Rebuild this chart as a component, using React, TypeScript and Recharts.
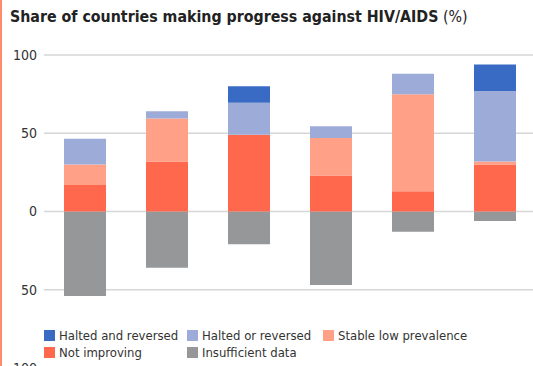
import React from 'react';
import { BarChart, Bar, XAxis, YAxis, CartesianGrid, Legend } from 'recharts';

const groups = ['A', 'B', 'C', 'D', 'E', 'F'];
const insufficientData = [-54, -36, -21, -47, -13, -6];
const notImproving = [17, 32, 49, 23, 13, 30];
const stableLowPrevalence = [13, 27.5, 0, 24, 62, 2];
const haltedOrReversed = [16.5, 4.5, 20.5, 7.5, 13, 45];
const haltedAndReversed = [0, 0, 10.5, 0, 0, 17];
const yTicks = [-100, -50, 0, 50, 100];

const FONT = '"DejaVu Sans Condensed", "Liberation Sans Narrow", "Liberation Sans", sans-serif';

const SERIES = [
  { key: 'insufficient', name: 'Insufficient data', color: '#969798' },
  { key: 'notImproving', name: 'Not improving', color: '#ff684c' },
  { key: 'stable', name: 'Stable low prevalence', color: '#ffa087' },
  { key: 'haltedOr', name: 'Halted or reversed', color: '#9dabd8' },
  { key: 'haltedAnd', name: 'Halted and reversed', color: '#3a6bc4' },
];

// legend rows, in the order the original prints them
const LEGEND_ROWS = [
  ['haltedAnd', 'haltedOr', 'stable'],
  ['notImproving', 'insufficient'],
];
const LEGEND_COLS = [0, 143, 279];

const data = groups.map((g, i) => ({
  group: g,
  insufficient: insufficientData[i],
  notImproving: notImproving[i],
  stable: stableLowPrevalence[i],
  haltedOr: haltedOrReversed[i],
  haltedAnd: haltedAndReversed[i],
}));

const renderLegend = () => (
  <div style={{ position: 'relative', width: 480, height: 36, fontFamily: FONT, fontSize: 13, color: '#333' }}>
    {LEGEND_ROWS.map((row, r) =>
      row.map((key, c) => {
        const s = SERIES.find((x) => x.key === key)!;
        return (
          <div
            key={key}
            style={{ position: 'absolute', left: LEGEND_COLS[c], top: r * 17, display: 'flex', alignItems: 'center', whiteSpace: 'nowrap' }}
          >
            <span style={{ display: 'inline-block', width: 11, height: 11, background: s.color, marginRight: 4 }} />
            <span style={{ lineHeight: '17px' }}>{s.name}</span>
          </div>
        );
      })
    )}
  </div>
);

export default function App() {
  return (
    <div style={{ position: 'absolute', left: 0, top: 0, width: 533, height: 366, overflow: 'hidden', background: '#fff' }}>
      <div style={{ position: 'absolute', left: 0, top: 0, width: 2, height: 366, background: '#ff8a6e' }} />
      <div
        style={{ position: 'absolute', left: 10, top: 7, fontFamily: FONT, fontSize: 15.8, color: '#222', whiteSpace: 'nowrap' }}
      >
        <span style={{ fontWeight: 'bold' }}>Share of countries making progress against HIV/AIDS</span>
        <span> (%)</span>
      </div>
      <div style={{ position: 'absolute', left: 0, top: 0 }}>
        <BarChart
          width={560}
          height={437}
          data={data}
          stackOffset="sign"
          margin={{ top: 55, right: 24, bottom: 33, left: 0 }}
        >
          <CartesianGrid vertical={false} stroke="#d6d6d6" strokeWidth={1.5} />
          <XAxis dataKey="group" hide />
          <YAxis
            width={44}
            domain={[-100, 100]}
            ticks={yTicks}
            tickFormatter={(v: number) => String(Math.abs(v))}
            axisLine={false}
            tickLine={false}
            tickSize={0}
            tickMargin={7}
            tick={{ fill: '#333', fontSize: 14, fontFamily: FONT }}
          />
          <Legend
            content={renderLegend}
            wrapperStyle={{ position: 'absolute', left: 44, top: 327, width: 480, height: 36 }}
          />
          {SERIES.map((s) => (
            <Bar key={s.key} dataKey={s.key} name={s.name} stackId="a" fill={s.color} barSize={42} isAnimationActive={false} />
          ))}
        </BarChart>
      </div>
    </div>
  );
}
